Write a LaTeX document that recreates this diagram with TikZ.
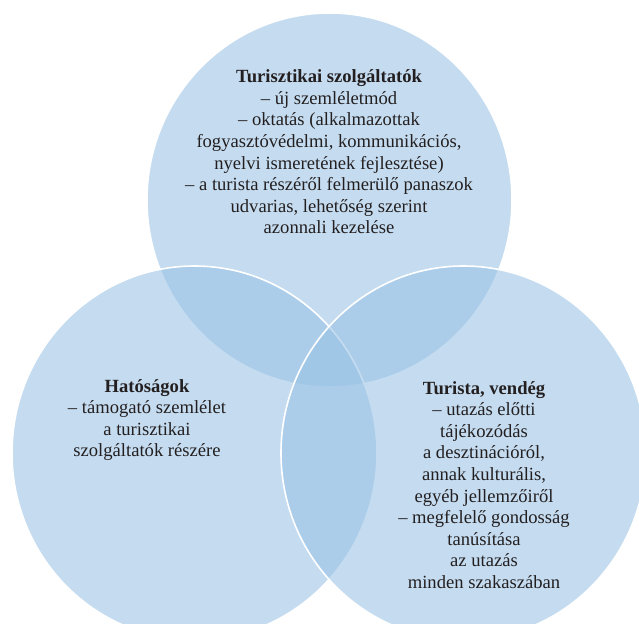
\documentclass[tikz,border=0pt]{standalone}
\usepackage{fontspec}
\setmainfont{Liberation Serif}
\usetikzlibrary{shapes.geometric}

\definecolor{vennblue}{RGB}{153,194,229}
\definecolor{venntext}{RGB}{35,31,32}

\tikzset{
  venn/.style={ellipse, draw=white, line width=1.6pt, fill=vennblue,
    fill opacity=0.57, minimum width=365bp, minimum height=374bp, inner sep=0pt},
  venntxt/.style={align=center, text=venntext,
    font=\fontsize{18.6bp}{21.6bp}\selectfont}
}

\begin{document}
\begin{tikzpicture}[x=1bp, y=-1bp]
\useasboundingbox (0,0) rectangle (639,624);
\clip (0,0) rectangle (639,624);

% the three circles
\node[venn] (szolg) at (329.5,200) {};
\node[venn] (hatosag) at (194.5,453) {};
\node[venn] (turista) at (463.5,453) {};

% texts
\node[venntxt] (szolgtxt) at (329,152) {\textbf{Turisztikai szolgáltatók}\\
  – új szemléletmód\\
  – oktatás (alkalmazottak\\
  fogyasztóvédelmi, kommunikációs,\\
  nyelvi ismeretének fejlesztése)\\
  – a turista részéről felmerülő panaszok\\
  udvarias, lehetőség szerint\\
  azonnali kezelése};
\node[venntxt] (hatosagtxt) at (147,420) {\textbf{Hatóságok}\\
  – támogató szemlélet\\
  a turisztikai\\
  szolgáltatók részére};
\node[venntxt] (turistatxt) at (484,485) {\textbf{Turista, vendég}\\
  – utazás előtti\\
  tájékozódás\\
  a desztinációról,\\
  annak kulturális,\\
  egyéb jellemzőiről\\
  – megfelelő gondosság\\
  tanúsítása\\
  az utazás\\
  minden szakaszában};
\end{tikzpicture}
\end{document}
